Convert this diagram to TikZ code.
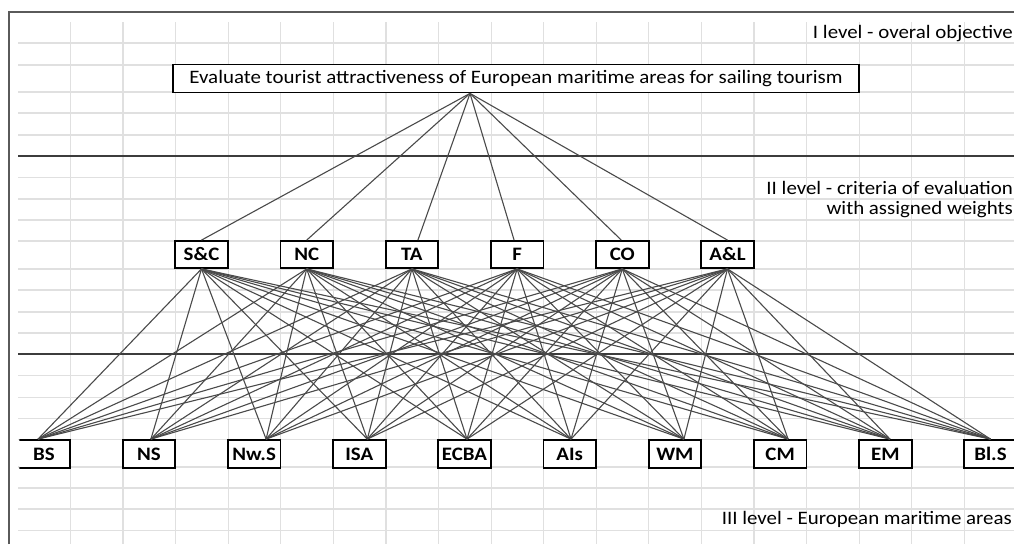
\documentclass[tikz,border=0pt]{standalone}
\usepackage{fontspec}
\setmainfont{Carlito}[FakeStretch=1.1]
\usetikzlibrary{calc}
\definecolor{gridc}{HTML}{E0E0E0}
\definecolor{edgec}{HTML}{4A4A4A}
\definecolor{framec}{HTML}{5A5A5A}
\definecolor{sepc}{HTML}{3C3C3C}
\begin{document}
\begin{tikzpicture}[x=1pt,y=-1pt,
  box/.style={draw=black, line width=1.8pt, fill=white, inner sep=0pt,
    minimum width=52.6pt, minimum height=28pt,
    font=\fontsize{19}{20}\selectfont\bfseries},
  goalbox/.style={draw=black, line width=1.8pt, fill=white, inner sep=0pt,
    minimum width=686pt, minimum height=28pt,
    font=\fontsize{19}{20}\selectfont},
  link/.style={draw=edgec, line width=1.1pt},
  lvl/.style={inner sep=0pt, align=right, font=\fontsize{19}{20}\selectfont},
  gridline/.style={draw=gridc, line width=1.2pt},
  sepline/.style={draw=sepc, line width=1.3pt},
]
\useasboundingbox (0,0) rectangle (1014,544);
\fill[white] (0,0) rectangle (1014,544);
% spreadsheet grid
\foreach \gx in {0,...,18}
  \draw[gridline] ({70.5+52.58*\gx},22) -- ({70.5+52.58*\gx},544);
\foreach \gy in {43,65,92,113,135,177.5,199,220,241,269,290,312,333,375.7,397.3,418.3,439.5,467,488,509,530.7}
  \draw[gridline] (18,\gy) -- (1014,\gy);
% level separators
\draw[sepline] (18,156) -- (1014,156);
\draw[sepline] (18,354) -- (1014,354);
% sheet frame
\draw[framec, line width=2pt] (9,544) -- (9,12.3) -- (1014,12.3);

% level I
\node[goalbox] (goal) at (516,78.5) {Evaluate tourist attractiveness of European maritime areas for sailing tourism};
\coordinate (apex) at ($(goal.south)+(-46,0)$);

% level II
\node[box, minimum height=27pt] (sc) at (201.5,254.5) {S\&C};
\node[box, minimum height=27pt] (nc) at (306.7,254.5) {NC};
\node[box, minimum height=27pt] (ta) at (411.9,254.5) {TA};
\node[box, minimum height=27pt] (f)  at (517.1,254.5) {F};
\node[box, minimum height=27pt] (co) at (622.3,254.5) {CO};
\node[box, minimum height=27pt] (al) at (727.5,254.5) {A\&L};

% level III
\begin{scope}
  \clip (19.3,0) rectangle (1014,544);
  \node[box] (bs) at (44,454) {BS};
\end{scope}
\node[box] (ns)   at (148.9,454) {NS};
\node[box] (nws)  at (254.1,454) {Nw.S};
\node[box] (isa)  at (359.3,454) {ISA};
\node[box] (ecba) at (464.5,454) {ECBA};
\node[box] (als)  at (569.7,454) {AIs};
\node[box] (wm)   at (674.9,454) {WM};
\node[box] (cm)   at (780.1,454) {CM};
\node[box] (em)   at (885.3,454) {EM};
\node[box] (bls)  at (990.5,454) {Bl.S};

% attach points
\coordinate (sc-in) at (sc.north);
\coordinate (nc-in) at (nc.north);
\coordinate (ta-in) at ($(ta.north)+(6,0)$);
\coordinate (f-in)  at ($(f.north)+(-3,0)$);
\coordinate (co-in) at ($(co.north)+(-1,0)$);
\coordinate (al-in) at (al.north);

\coordinate (bs-in)   at ($(bs.north)+(-6,0)$);
\coordinate (ns-in)   at ($(ns.north)+(2,0)$);
\coordinate (nws-in)  at ($(nws.north)+(12,0)$);
\coordinate (isa-in)  at ($(isa.north)+(8,0)$);
\coordinate (ecba-in) at ($(ecba.north)+(2.5,0)$);
\coordinate (als-in)  at ($(als.north)+(1.3,0)$);
\coordinate (wm-in)   at ($(wm.north)+(9,0)$);
\coordinate (cm-in)   at ($(cm.north)+(8,0)$);
\coordinate (em-in)   at ($(em.north)+(4.7,0)$);
\coordinate (bls-in)  at (bls.north);

% links level I -> level II
\foreach \m in {sc,nc,ta,f,co,al}
  \draw[link] (apex) -- (\m-in);
% links level II -> level III
\foreach \m in {sc,nc,ta,f,co,al}
  \foreach \b in {bs,ns,nws,isa,ecba,als,wm,cm,em,bls}
    \draw[link] (\m.south) -- (\b-in);

% level labels
\node[lvl, anchor=east] (lab1) at (1013,34) {I level - overal objective};
\node[lvl, anchor=east] (lab2) at (1013,200) {II level - criteria of evaluation\\with assigned weights};
\node[lvl, anchor=east] (lab3) at (1012,519) {III level - European maritime areas};
\end{tikzpicture}
\end{document}
